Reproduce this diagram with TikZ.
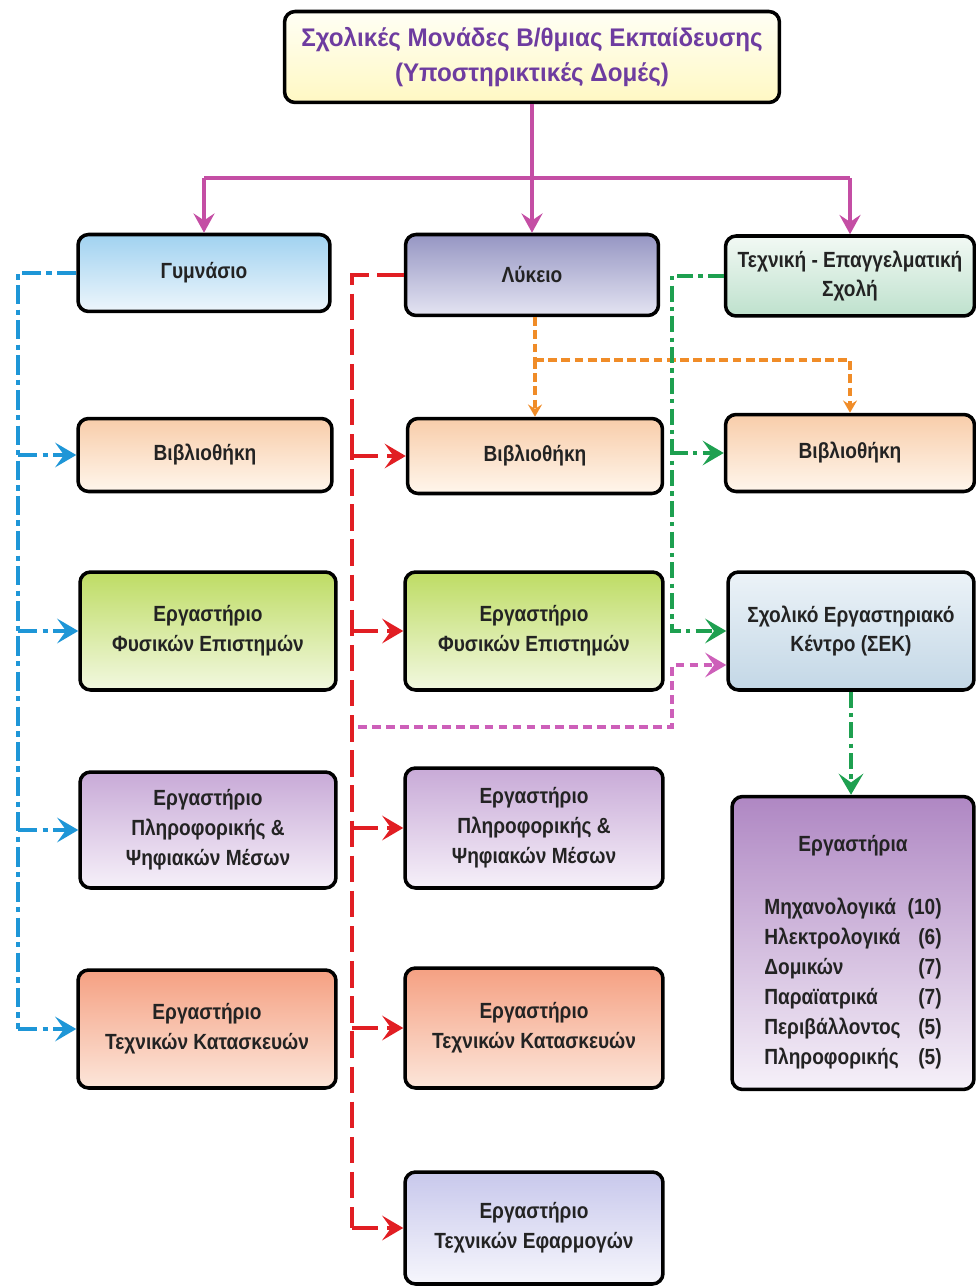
\documentclass[tikz,border=0pt]{standalone}
\usepackage{fontspec}
\setmainfont{Liberation Sans}[FakeStretch=0.87]
\newfontfamily\titlefont{Liberation Sans}[FakeStretch=0.95]
\usetikzlibrary{arrows.meta, positioning}
\definecolor{textgrey}{RGB}{35,35,35}
\definecolor{titlepurple}{RGB}{110,60,160}
\definecolor{magcol}{RGB}{196,78,164}
\definecolor{pinkcol}{RGB}{205,95,185}
\definecolor{bluecol}{RGB}{30,150,215}
\definecolor{redcol}{RGB}{225,30,35}
\definecolor{greencol}{RGB}{30,160,80}
\definecolor{orangecol}{RGB}{240,140,40}

\begin{document}
\begin{tikzpicture}[x=0.02cm, y=-0.02cm,
    unitbox/.style={draw, line width=2pt, rounded corners=6pt, align=center,
      text=textgrey, font=\fontsize{12.5}{17}\selectfont\bfseries, inner sep=3pt},
    chevron/.style={-{Stealth[length=12pt, width=14pt, inset=5pt]}},
    maglink/.style={magcol, line width=2.8pt},
    gymlink/.style={bluecol, line width=2.8pt, dash pattern=on 11pt off 3pt on 3pt off 3pt},
    lyklink/.style={redcol, line width=2.8pt, dash pattern=on 15pt off 5pt},
    teelink/.style={greencol, line width=2.4pt, dash pattern=on 9pt off 3pt on 2.5pt off 3pt},
    orlink/.style={orangecol, line width=1.8pt, dash pattern=on 5pt off 2.5pt},
    pinklink/.style={pinkcol, line width=2pt, dash pattern=on 5pt off 3pt}]
  \useasboundingbox (0,0) rectangle (976,1287);

  % Top
  \node[unitbox, top color=yellow!4, bottom color={rgb,255:red,255;green,248;blue,195},
    minimum width=9.9cm, minimum height=1.82cm, text=titlepurple,
    font=\fontsize{14.5}{20}\titlefont\bfseries] (title) at (532,57)
    {Σχολικές Μονάδες Β/θμιας Εκπαίδευσης\\(Υποστηρικτικές Δομές)};

  % Row 1: school types
  \node[unitbox, top color={rgb,255:red,160;green,210;blue,240}, bottom color={rgb,255:red,238;green,246;blue,252},
    minimum width=5.04cm, minimum height=1.54cm] (gym) at (204,273) {Γυμνάσιο};
  \node[unitbox, top color={rgb,255:red,150;green,150;blue,195}, bottom color={rgb,255:red,228;green,228;blue,242},
    minimum width=5.06cm, minimum height=1.62cm] (lyk) at (532,275) {Λύκειο};
  \node[unitbox, top color={rgb,255:red,242;green,249;blue,244}, bottom color={rgb,255:red,190;green,225;blue,205},
    minimum width=4.98cm, minimum height=1.6cm] (tee) at (850,276) {Τεχνική - Επαγγελματική\\Σχολή};

  % Row 2: libraries
  \node[unitbox, top color={rgb,255:red,248;green,205;blue,170}, bottom color={rgb,255:red,255;green,246;blue,236},
    minimum width=5.08cm, minimum height=1.46cm] (lib1) at (205,455) {Βιβλιοθήκη};
  \node[unitbox, top color={rgb,255:red,248;green,205;blue,170}, bottom color={rgb,255:red,255;green,246;blue,236},
    minimum width=5.1cm, minimum height=1.5cm] (lib2) at (535,456) {Βιβλιοθήκη};
  \node[unitbox, top color={rgb,255:red,248;green,205;blue,170}, bottom color={rgb,255:red,255;green,246;blue,236},
    minimum width=4.98cm, minimum height=1.54cm] (lib3) at (850,453) {Βιβλιοθήκη};

  % Row 3
  \node[unitbox, top color={rgb,255:red,190;green,220;blue,100}, bottom color={rgb,255:red,242;green,248;blue,224},
    minimum width=5.12cm, minimum height=2.36cm] (phy1) at (208,631) {Εργαστήριο\\Φυσικών Επιστημών};
  \node[unitbox, top color={rgb,255:red,190;green,220;blue,100}, bottom color={rgb,255:red,242;green,248;blue,224},
    minimum width=5.16cm, minimum height=2.36cm] (phy2) at (534,631) {Εργαστήριο\\Φυσικών Επιστημών};
  \node[unitbox, top color={rgb,255:red,236;green,243;blue,248}, bottom color={rgb,255:red,195;green,215;blue,230},
    minimum width=4.92cm, minimum height=2.36cm] (sek) at (851,631) {Σχολικό Εργαστηριακό\\Κέντρο (ΣΕΚ)};

  % Row 4
  \node[unitbox, top color={rgb,255:red,200;green,170;blue,215}, bottom color={rgb,255:red,246;green,240;blue,249},
    minimum width=5.12cm, minimum height=2.32cm] (inf1) at (208,830) {Εργαστήριο\\Πληροφορικής \&\\Ψηφιακών Μέσων};
  \node[unitbox, top color={rgb,255:red,200;green,170;blue,215}, bottom color={rgb,255:red,246;green,240;blue,249},
    minimum width=5.16cm, minimum height=2.4cm] (inf2) at (534,828) {Εργαστήριο\\Πληροφορικής \&\\Ψηφιακών Μέσων};
  \node[unitbox, top color={rgb,255:red,175;green,135;blue,195}, bottom color={rgb,255:red,246;green,241;blue,249},
    minimum width=4.84cm, minimum height=5.86cm] (lab) at (853,943)
    {\raisebox{-5pt}[\height][\depth]{\begin{tabular}{@{}l@{\hspace{4pt}}r@{}}
       \multicolumn{2}{c}{Εργαστήρια}\\[19pt]
       Μηχανολογικά & (10)\\
       Ηλεκτρολογικά & (6)\\
       Δομικών & (7)\\
       Παραϊατρικά & (7)\\
       Περιβάλλοντος & (5)\\
       Πληροφορικής & (5)
     \end{tabular}}};

  % Row 5 and 6
  \node[unitbox, top color={rgb,255:red,245;green,160;blue,130}, bottom color={rgb,255:red,252;green,230;blue,218},
    minimum width=5.16cm, minimum height=2.36cm] (tec1) at (207,1029) {Εργαστήριο\\Τεχνικών Κατασκευών};
  \node[unitbox, top color={rgb,255:red,245;green,160;blue,130}, bottom color={rgb,255:red,252;green,230;blue,218},
    minimum width=5.16cm, minimum height=2.4cm] (tec2) at (534,1028) {Εργαστήριο\\Τεχνικών Κατασκευών};
  \node[unitbox, top color={rgb,255:red,200;green,200;blue,236}, bottom color={rgb,255:red,246;green,246;blue,252},
    minimum width=5.16cm, minimum height=2.24cm] (app2) at (534,1228) {Εργαστήριο\\Τεχνικών Εφαρμογών};

  % Magenta: top to school types
  \coordinate (bus) at (532,178);
  \draw[maglink] (bus -| gym.north) -- (bus -| tee.north);
  \draw[maglink, -{Stealth[length=11pt, width=12pt, inset=4pt]}] (title.south) -- (lyk.north);
  \draw[maglink, -{Stealth[length=11pt, width=12pt, inset=4pt]}] (bus -| gym.north) -- (gym.north);
  \draw[maglink, -{Stealth[length=11pt, width=12pt, inset=4pt]}] (bus -| tee.north) -- (tee.north);

  % Blue: Gymnasio
  \coordinate (gymbus) at (18,1029);
  \draw[gymlink] (gym.west) -| (gymbus);
  \foreach \n in {lib1, phy1, inf1, tec1}
    \draw[gymlink, chevron] (gymbus |- \n.west) -- (\n.west);

  % Red: Lykeio
  \coordinate (lykbus) at (352,1228);
  \draw[lyklink] (lyk.west) -| (lykbus);
  \foreach \n in {lib2, phy2, inf2, tec2, app2}
    \draw[lyklink, chevron] (lykbus |- \n.west) -- (\n.west);

  % Orange: Lykeio libraries
  \coordinate (orsplit) at (535,360);
  \draw[orlink] (lyk.south -| orsplit) -- (orsplit);
  \draw[orlink, -{Stealth[length=7pt, width=8pt, inset=2.5pt]}] (orsplit) -- (lib2.north);
  \draw[orlink, -{Stealth[length=7pt, width=8pt, inset=2.5pt]}] (orsplit) -| (lib3.north);

  % Green: technical school
  \coordinate (teebus) at (672,631);
  \draw[teelink, chevron] (tee.west) -| (teebus) -- (sek.west);
  \draw[teelink, chevron] (teebus |- lib3.west) -- (lib3.west);
  \draw[teelink, chevron] (sek.south) -- (sek.south |- lab.north);

  % Pink: Lykeio to SEK
  \coordinate (pinkstart) at (358,727);
  \coordinate (pinkjoin) at (672,665);
  \draw[pinklink, chevron] (pinkstart) -| (pinkjoin) -- (pinkjoin -| sek.west);
\end{tikzpicture}
\end{document}
